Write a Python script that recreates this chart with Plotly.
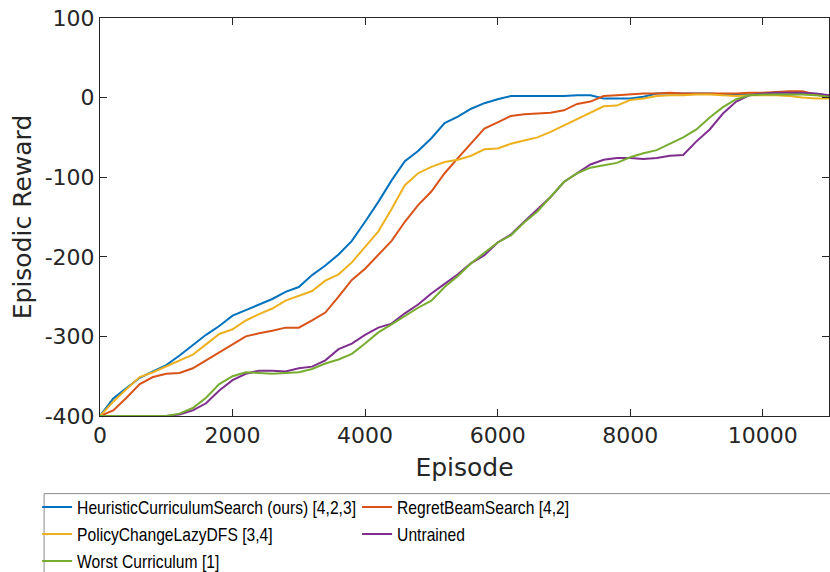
import plotly.graph_objects as go

episodes = list(range(0, 11001, 200))

hcs = [-400, -378, -365, -352, -344, -336, -324, -311, -298, -287,
       -274, -267, -260, -253, -244, -238, -223, -211, -197, -180,
       -156, -131, -104, -80, -67, -51, -32, -24, -14, -7,
       -2, 2, 2, 2, 2, 2, 3, 3, -1, -1,
       -1, 1, 5, 5, 5, 5, 5, 4, 4, 4,
       4, 4, 4, 5, 4, 3]

regret = [-400, -393, -377, -360, -351, -347, -346, -340, -330, -320,
          -309, -300, -296, -293, -289, -289, -280, -270, -250, -229,
          -215, -198, -180, -156, -135, -118, -95, -76, -57, -39,
          -31, -23, -21, -20, -19, -16, -8, -5, 2, 3,
          4, 5, 5, 6, 5, 5, 5, 5, 5, 6,
          6, 7, 8, 8, 4, 3]

policy = [-400, -382, -366, -351, -345, -338, -330, -323, -310, -297,
          -291, -280, -272, -265, -255, -249, -243, -230, -222, -207,
          -188, -168, -140, -110, -95, -87, -81, -78, -73, -65,
          -64, -58, -54, -50, -43, -35, -28, -20, -11, -10,
          -3, -1, 2, 3, 3, 4, 4, 3, 2, 3,
          3, 3, 2, 0, -1, -1]

untrained = [-400, -400, -400, -400, -400, -400, -398, -393, -384, -368,
             -355, -347, -343, -343, -344, -340, -338, -330, -316, -309,
             -298, -289, -284, -271, -260, -246, -234, -222, -208, -198,
             -182, -172, -156, -141, -125, -106, -95, -84, -78, -76,
             -76, -77, -76, -73, -72, -55, -40, -20, -5, 3,
             5, 6, 6, 6, 5, 3]

worst = [-400, -400, -400, -400, -400, -400, -397, -390, -377, -360,
         -350, -345, -346, -347, -346, -345, -341, -334, -329, -322,
         -309, -295, -285, -274, -264, -255, -238, -224, -208, -195,
         -182, -173, -157, -143, -125, -106, -95, -88, -85, -82,
         -75, -70, -66, -58, -50, -40, -25, -12, -2, 3,
         4, 4, 4, 4, 3, 1]

x_ticks = [0, 2000, 4000, 6000, 8000, 10000]
x_ticktext = ["0", "2000", "4000", "6000", "8000", "10000"]
y_ticks = [-400, -300, -200, -100, 0, 100]
y_ticktext = ["-400", "-300", "-200", "-100", "0", "100"]

names = ["HeuristicCurriculumSearch (ours) [4,2,3]", "RegretBeamSearch [4,2]",
         "PolicyChangeLazyDFS [3,4]", "Untrained", "Worst Curriculum [1]"]
series = [hcs, regret, policy, untrained, worst]
colors = ["#0072BD", "#D95319", "#EDB120", "#7E2F8E", "#77AC30"]

fig = go.Figure()
for name, ys, c in zip(names, series, colors):
    fig.add_trace(go.Scatter(x=episodes, y=ys, mode="lines", name=name,
                             line=dict(color=c, width=2)))

axis_common = dict(showgrid=False, zeroline=False, showline=True, linecolor="#262626",
                   linewidth=1, mirror="ticks", ticks="inside", ticklen=7,
                   tickcolor="#262626", tickwidth=1,
                   tickfont=dict(family="DejaVu Sans", size=22, color="#262626"))

fig.update_xaxes(range=[0, 11000], tickvals=x_ticks, ticktext=x_ticktext,
                 title=dict(text="Episode", font=dict(family="DejaVu Sans", size=25, color="#262626"), standoff=11),
                 **axis_common)
fig.update_yaxes(range=[-400, 100], tickvals=y_ticks, ticktext=y_ticktext,
                 title=dict(text="Episodic Reward", font=dict(family="DejaVu Sans", size=25, color="#262626"), standoff=5),
                 **axis_common)

# legend frame (extends past the right edge, as in the reference)
fig.add_shape(type="rect", xref="paper", yref="paper",
              x0=-0.0767, x1=1.02, y0=-0.195, y1=-0.42,
              line=dict(color="#8c8c8c", width=1), fillcolor="white", layer="below")

fig.update_layout(
    width=830, height=572,
    margin=dict(l=100, r=1, t=18, b=156, autoexpand=False),
    plot_bgcolor="white", paper_bgcolor="white",
    legend=dict(orientation="h", x=-0.0863, xanchor="left", y=-0.182, yanchor="top",
                entrywidth=275, entrywidthmode="pixels",
                font=dict(family="Liberation Sans", size=18.5, color="#000000"),
                borderwidth=0, bgcolor="rgba(0,0,0,0)",
                itemwidth=30, tracegroupgap=0),
)

# condense the legend labels horizontally (the reference uses a narrow face)
squeeze_js = """
var gd = document.getElementById('{plot_id}');
gd.querySelectorAll('.legendtext').forEach(function(t){
  var w = t.getComputedTextLength();
  t.setAttribute('textLength', (w * 0.845).toFixed(1));
  t.setAttribute('lengthAdjust', 'spacingAndGlyphs');
});
"""

fig.write_html("out.html", post_script=squeeze_js)
